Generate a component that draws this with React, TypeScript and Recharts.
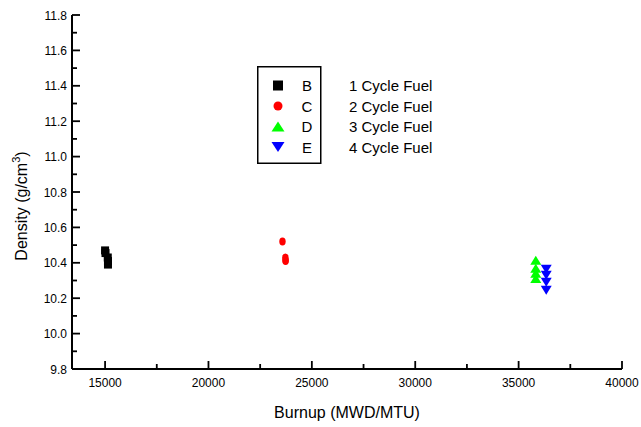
import React from "react";
import { ScatterChart, Scatter, XAxis, YAxis, Legend, Label } from "recharts";

// Density vs burnup, four fuel groups, Origin-style framed plot.

document.body.style.margin = "0";

const FONT = "Arial, 'Liberation Sans', sans-serif";

const SERIES_NAMES = ["B", "C", "D", "E"];
const FUEL_LABELS = ["1 Cycle Fuel", "2 Cycle Fuel", "3 Cycle Fuel", "4 Cycle Fuel"];
const SERIES_COLORS = ["#000000", "#ff0000", "#00ff00", "#0000ff"];
const SERIES_SHAPES = ["square", "circle", "up", "down"];

const B_POINTS = [
  { x: 15000, y: 10.47 },
  { x: 15020, y: 10.455 },
  { x: 15130, y: 10.43 },
  { x: 15140, y: 10.41 },
  { x: 15140, y: 10.39 },
];
const C_POINTS = [
  { x: 23580, y: 10.52 },
  { x: 23720, y: 10.43 },
  { x: 23730, y: 10.415 },
  { x: 23730, y: 10.41 },
];
const D_POINTS = [
  { x: 35830, y: 10.414 },
  { x: 35830, y: 10.369 },
  { x: 35830, y: 10.341 },
  { x: 35830, y: 10.312 },
];
const E_POINTS = [
  { x: 36335, y: 10.363 },
  { x: 36335, y: 10.329 },
  { x: 36335, y: 10.29 },
  { x: 36335, y: 10.245 },
];
const SERIES_DATA = [B_POINTS, C_POINTS, D_POINTS, E_POINTS];

const X_TICKS = [15000, 17500, 20000, 22500, 25000, 27500, 30000, 32500, 35000, 37500, 40000];
const Y_TICKS = [
  9.8, 9.9, 10.0, 10.1, 10.2, 10.3, 10.4, 10.5, 10.6, 10.7, 10.8,
  10.9, 11.0, 11.1, 11.2, 11.3, 11.4, 11.5, 11.6, 11.7, 11.8,
];

// ─── Markers ────────────────────────────────────────────────────────────────

function marker(kind: string, cx: number, cy: number, color: string, big = false) {
  if (kind === "square") {
    const s = big ? 10 : 8;
    return <rect x={cx - s / 2} y={cy - s / 2} width={s} height={s} fill={color} />;
  }
  if (kind === "circle") {
    return <ellipse cx={cx} cy={cy} rx={big ? 4.5 : 3.2} ry={big ? 4.5 : 4} fill={color} />;
  }
  const w = big ? 13 : 11;
  const h = big ? 10 : 9;
  if (kind === "up") {
    return (
      <polygon
        points={`${cx},${cy - h / 2} ${cx - w / 2},${cy + h / 2} ${cx + w / 2},${cy + h / 2}`}
        fill={color}
      />
    );
  }
  return (
    <polygon
      points={`${cx},${cy + h / 2} ${cx - w / 2},${cy - h / 2} ${cx + w / 2},${cy - h / 2}`}
      fill={color}
    />
  );
}

// ─── Ticks (inward, with minor ticks) ───────────────────────────────────────

function XTick(props: any) {
  const { x, y, payload } = props;
  const major = payload.value % 5000 === 0;
  return (
    <g>
      <line x1={x} x2={x} y1={y} y2={y - (major ? 8 : 5)} stroke="#000" strokeWidth={1.8} />
      {major && (
        <text x={x} y={y + 18} textAnchor="middle" fontSize={12} fontFamily={FONT} fill="#000">
          {payload.value}
        </text>
      )}
    </g>
  );
}

function YTick(props: any) {
  const { x, y, payload } = props;
  const major = Math.round(payload.value * 10) % 2 === 0;
  return (
    <g>
      <line x1={x} x2={x + (major ? 8 : 5)} y1={y} y2={y} stroke="#000" strokeWidth={1.8} />
      {major && (
        <text x={x - 5} y={y + 4.5} textAnchor="end" fontSize={12} fontFamily={FONT} fill="#000">
          {payload.value.toFixed(1)}
        </text>
      )}
    </g>
  );
}

function YTitle() {
  return (
    <text
      x={27}
      y={206}
      transform="rotate(-90, 27, 206)"
      textAnchor="middle"
      fontSize={16}
      fontFamily={FONT}
      fill="#000"
    >
      Density (g/cm
      <tspan dy={-7} fontSize={11}>3</tspan>
      <tspan dy={7}>)</tspan>
    </text>
  );
}

function XTitle() {
  return (
    <text x={347} y={418} textAnchor="middle" fontSize={16} fontFamily={FONT} fill="#000">
      Burnup (MWD/MTU)
    </text>
  );
}

// ─── Legend ─────────────────────────────────────────────────────────────────

function FuelLegend(props: any) {
  const payload = props.payload ?? [];
  return (
    <svg width={200} height={100} style={{ display: "block" }}>
      <rect x={0.75} y={0.75} width={63} height={96.5} fill="#fff" stroke="#000" strokeWidth={1.5} />
      {payload.map((p: any) => {
        const i = SERIES_NAMES.indexOf(p.value);
        if (i < 0) return null;
        const cy = 19.5 + i * 20.5;
        return (
          <g key={p.value}>
            {marker(SERIES_SHAPES[i], 21, cy, SERIES_COLORS[i], true)}
            <text x={50} y={cy + 5.5} textAnchor="middle" fontSize={15} fontFamily={FONT} fill="#000">
              {p.value}
            </text>
            <text x={92} y={cy + 5.5} fontSize={15} fontFamily={FONT} fill="#000">
              {FUEL_LABELS[i]}
            </text>
          </g>
        );
      })}
    </svg>
  );
}

// ─── Chart ──────────────────────────────────────────────────────────────────

export default function App() {
  return (
    <div style={{ width: 641, height: 427, background: "#fff", position: "relative" }}>
      <ScatterChart width={641} height={427} margin={{ top: 15, right: 19, left: 0, bottom: 0 }}>
        <XAxis
          type="number"
          dataKey="x"
          domain={[13400, 40000]}
          ticks={X_TICKS}
          interval={0}
          height={58}
          tickSize={0}
          tickMargin={0}
          tickLine={false}
          tick={<XTick />}
          axisLine={{ stroke: "#000", strokeWidth: 2 }}
        >
          <Label content={<XTitle />} />
        </XAxis>
        <XAxis
          xAxisId="top"
          orientation="top"
          type="number"
          domain={[13400, 40000]}
          height={0}
          tick={false}
          tickLine={false}
          axisLine={{ stroke: "#000", strokeWidth: 2 }}
        />
        <YAxis
          type="number"
          dataKey="y"
          domain={[9.8, 11.8]}
          ticks={Y_TICKS}
          interval={0}
          width={72}
          tickSize={0}
          tickMargin={0}
          tickLine={false}
          tick={<YTick />}
          axisLine={{ stroke: "#000", strokeWidth: 2 }}
        >
          <Label content={<YTitle />} />
        </YAxis>
        <YAxis
          yAxisId="right"
          orientation="right"
          type="number"
          domain={[9.8, 11.8]}
          width={0}
          tick={false}
          tickLine={false}
          axisLine={{ stroke: "#000", strokeWidth: 2 }}
        />
        <Legend
          layout="vertical"
          align="center"
          verticalAlign="middle"
          content={<FuelLegend />}
          wrapperStyle={{ left: 257, top: 66, width: 200, height: 100 }}
        />
        {SERIES_NAMES.map((name, i) => (
          <Scatter
            key={name}
            name={name}
            data={SERIES_DATA[i]}
            fill={SERIES_COLORS[i]}
            isAnimationActive={false}
            shape={(p: any) => marker(SERIES_SHAPES[i], p.cx, p.cy, SERIES_COLORS[i])}
          />
        ))}
      </ScatterChart>
    </div>
  );
}
